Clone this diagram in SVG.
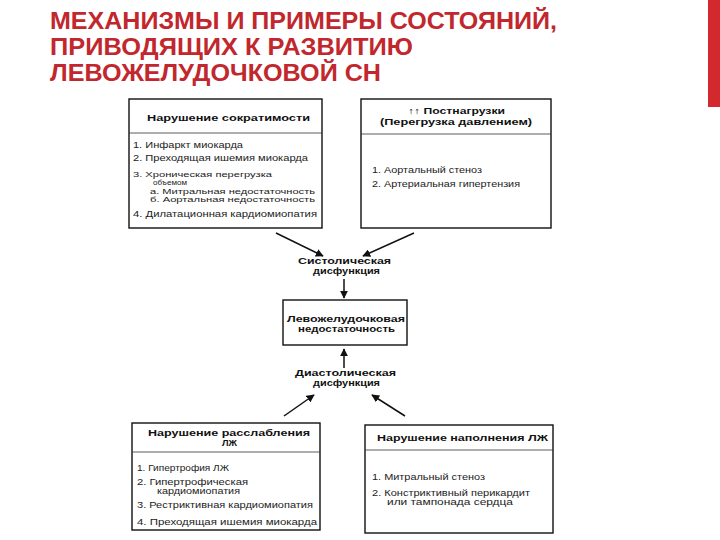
<svg xmlns="http://www.w3.org/2000/svg" width="720" height="540" viewBox="0 0 720 540">
<defs>
<style>
.title{font-family:"Liberation Sans",Arial,sans-serif;font-weight:bold;font-size:23px;fill:#c1272d}
.box{fill:#fff;stroke:#111;stroke-width:1.4}
.sep{stroke:#333;stroke-width:0.8}
.h{font-family:"Liberation Sans",Arial,sans-serif;font-weight:bold;font-size:9px;fill:#111}
.t{font-family:"Liberation Sans",Arial,sans-serif;font-size:8.5px;fill:#222}
.s{font-family:"Liberation Sans",Arial,sans-serif;font-size:8px;fill:#222}
.c{font-family:"Liberation Sans",Arial,sans-serif;font-weight:bold;font-size:9px;fill:#111}
.ar{stroke:#111;stroke-width:1.5;fill:none}
</style>
<marker id="ah" viewBox="0 0 10 10" refX="9" refY="5" markerWidth="8" markerHeight="8" orient="auto" markerUnits="userSpaceOnUse">
<path d="M0,0 L10,5 L0,10 Z" fill="#111"/>
</marker>
</defs>
<rect width="720" height="540" fill="#fff"/>
<rect x="708" y="0" width="12" height="107" fill="#d3282e"/>
<g id="title">
<text class="title" x="50" y="29" textLength="507" lengthAdjust="spacingAndGlyphs">МЕХАНИЗМЫ И ПРИМЕРЫ СОСТОЯНИЙ,</text>
<text class="title" x="50" y="55" textLength="363" lengthAdjust="spacingAndGlyphs">ПРИВОДЯЩИХ К РАЗВИТИЮ</text>
<text class="title" x="50" y="81" textLength="331" lengthAdjust="spacingAndGlyphs">ЛЕВОЖЕЛУДОЧКОВОЙ СН</text>
</g>
<g id="connectors">
<line class="ar" x1="276" y1="233" x2="323" y2="256" marker-end="url(#ah)"/>
<line class="ar" x1="414" y1="233" x2="363" y2="256" marker-end="url(#ah)"/>
<line class="ar" x1="344" y1="279" x2="344" y2="298" marker-end="url(#ah)"/>
<line class="ar" x1="344" y1="368" x2="344" y2="349" marker-end="url(#ah)"/>
<line class="ar" x1="284" y1="416" x2="314" y2="395" marker-end="url(#ah)"/>
<line class="ar" x1="405" y1="416" x2="372" y2="395" marker-end="url(#ah)"/>
</g>
<g id="box-contractility">
<rect class="box" x="129" y="99" width="193" height="129"/>
<line class="sep" x1="129" y1="133" x2="322" y2="133"/>
<text class="h" x="147" y="121" textLength="163" lengthAdjust="spacingAndGlyphs">Нарушение сократимости</text>
<text class="t" x="133" y="148" textLength="110" lengthAdjust="spacingAndGlyphs">1. Инфаркт миокарда</text>
<text class="t" x="133" y="161" textLength="175" lengthAdjust="spacingAndGlyphs">2. Преходящая ишемия миокарда</text>
<text class="s" x="133" y="176.5" textLength="139" lengthAdjust="spacingAndGlyphs">3. Хроническая перегрузка</text>
<text class="s" x="153" y="185" textLength="34" lengthAdjust="spacingAndGlyphs">объемом</text>
<text class="s" x="150" y="193.5" textLength="165" lengthAdjust="spacingAndGlyphs">а. Митральная недостаточность</text>
<text class="s" x="150" y="202" textLength="165" lengthAdjust="spacingAndGlyphs">б. Аортальная недостаточность</text>
<text class="t" x="133" y="217" textLength="184" lengthAdjust="spacingAndGlyphs">4. Дилатационная кардиомиопатия</text>
</g>
<g id="box-afterload">
<rect class="box" x="361" y="99" width="190" height="129"/>
<line class="sep" x1="361" y1="134" x2="551" y2="134"/>
<text class="h" x="408" y="114" textLength="97" lengthAdjust="spacingAndGlyphs">↑↑ Постнагрузки</text>
<text class="h" x="380" y="125" textLength="152" lengthAdjust="spacingAndGlyphs">(Перегрузка давлением)</text>
<text class="t" x="372" y="173" textLength="110" lengthAdjust="spacingAndGlyphs">1. Аортальный стеноз</text>
<text class="t" x="372" y="187" textLength="148" lengthAdjust="spacingAndGlyphs">2. Артериальная гипертензия</text>
</g>
<g id="systolic">
<text class="c" x="298" y="264" textLength="93" lengthAdjust="spacingAndGlyphs">Систолическая</text>
<text class="c" x="313" y="274" textLength="67" lengthAdjust="spacingAndGlyphs">дисфункция</text>
</g>
<g id="lv-failure">
<rect class="box" x="283" y="300" width="124" height="45"/>
<text class="c" x="287" y="322" textLength="118" lengthAdjust="spacingAndGlyphs">Левожелудочковая</text>
<text class="c" x="298" y="332" textLength="97" lengthAdjust="spacingAndGlyphs">недостаточность</text>
</g>
<g id="diastolic">
<text class="c" x="295" y="376" textLength="101" lengthAdjust="spacingAndGlyphs">Диастолическая</text>
<text class="c" x="313" y="386" textLength="67" lengthAdjust="spacingAndGlyphs">дисфункция</text>
</g>
<g id="box-relaxation">
<rect class="box" x="132" y="423" width="188" height="107"/>
<line class="sep" x1="132" y1="452" x2="320" y2="452"/>
<text class="h" x="148" y="436" textLength="162" lengthAdjust="spacingAndGlyphs">Нарушение расслабления</text>
<text class="h" x="222" y="446" textLength="15" lengthAdjust="spacingAndGlyphs">ЛЖ</text>
<text class="t" x="137" y="471" textLength="92" lengthAdjust="spacingAndGlyphs">1. Гипертрофия ЛЖ</text>
<text class="t" x="137" y="485" textLength="111" lengthAdjust="spacingAndGlyphs">2. Гипертрофическая</text>
<text class="t" x="157" y="493.5" textLength="83" lengthAdjust="spacingAndGlyphs">кардиомиопатия</text>
<text class="t" x="137" y="508" textLength="176" lengthAdjust="spacingAndGlyphs">3. Рестриктивная кардиомиопатия</text>
<text class="t" x="137" y="525" textLength="180" lengthAdjust="spacingAndGlyphs">4. Преходящая ишемия миокарда</text>
</g>
<g id="box-filling">
<rect class="box" x="365" y="425" width="188" height="108"/>
<line class="sep" x1="365" y1="450" x2="553" y2="450"/>
<text class="h" x="377" y="441" textLength="171" lengthAdjust="spacingAndGlyphs">Нарушение наполнения ЛЖ</text>
<text class="t" x="372" y="480" textLength="113" lengthAdjust="spacingAndGlyphs">1. Митральный стеноз</text>
<text class="t" x="372" y="496" textLength="158" lengthAdjust="spacingAndGlyphs">2. Констриктивный перикардит</text>
<text class="t" x="387" y="505" textLength="126" lengthAdjust="spacingAndGlyphs">или тампонада сердца</text>
</g>
</svg>
